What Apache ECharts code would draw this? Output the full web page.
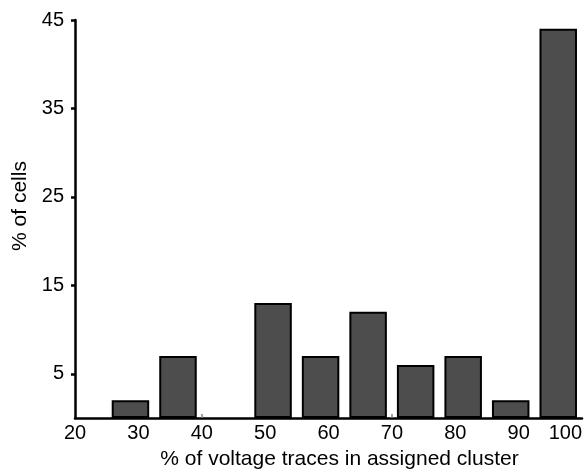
<!DOCTYPE html>
<html>
<head>
<meta charset="utf-8">
<script src="https://cdn.jsdelivr.net/npm/echarts@6/dist/echarts.min.js"></script>
<style>
html,body{margin:0;padding:0;background:#fff;}
#chart{width:585px;height:476px;}
</style>
</head>
<body>
<div id="chart"></div>
<script>
// Bins of width 7.5 from 25 to 100 (% of voltage traces in assigned cluster), value = % of cells
const binCenters = [28.75, 36.25, 43.75, 51.25, 58.75, 66.25, 73.75, 81.25, 88.75, 96.25];
const cellPercents = [2, 7, 0, 13, 7, 12, 6, 7, 2, 44];
const xTickValues = [20, 30, 40, 50, 60, 70, 80, 90, 100];
const yTickValues = [5, 15, 25, 35, 45];
const xAxisName = '% of voltage traces in assigned cluster';
const yAxisName = '% of cells';

const chart = echarts.init(document.getElementById('chart'));
const font = 'Liberation Sans, Arial, sans-serif';
chart.setOption({
  animation: false,
  grid: {left: 75, right: 3, top: 20, bottom: 58, containLabel: false},
  xAxis: {
    type: 'value',
    min: 20,
    max: 100,
    name: xAxisName,
    nameLocation: 'middle',
    nameGap: 31,
    nameTextStyle: {fontFamily: font, fontSize: 21, color: '#000', padding: [0, 0, 0, 22]},
    axisLine: {show: true, lineStyle: {color: '#000', width: 2.5}},
    axisTick: {show: true, inside: true, length: 4, customValues: xTickValues.slice(1, -1), lineStyle: {color: '#808080', width: 1.5}},
    splitLine: {show: false},
    axisLabel: {customValues: xTickValues, fontFamily: font, fontSize: 20, color: '#000', margin: 5, alignMaxLabel: 'right'}
  },
  yAxis: {
    type: 'value',
    min: 0,
    max: 45,
    name: yAxisName,
    nameLocation: 'middle',
    nameGap: 42,
    nameTextStyle: {fontFamily: font, fontSize: 21, color: '#000', padding: [0, 0, 0, 26]},
    axisLine: {show: true, lineStyle: {color: '#000', width: 2.5}},
    axisTick: {show: true, customValues: yTickValues, length: 4, lineStyle: {color: '#000', width: 2.5}},
    splitLine: {show: false},
    axisLabel: {customValues: yTickValues, fontFamily: font, fontSize: 20, color: '#000', margin: 11, padding: [0, 0, 6, 0]}
  },
  series: [{
    type: 'bar',
    data: binCenters.map((x, i) => [x, cellPercents[i] === 0 ? '-' : cellPercents[i]]),
    barWidth: 37.5,
    itemStyle: {color: '#4d4d4d', borderColor: '#000', borderWidth: 2}
  }]
});
</script>
</body>
</html>
